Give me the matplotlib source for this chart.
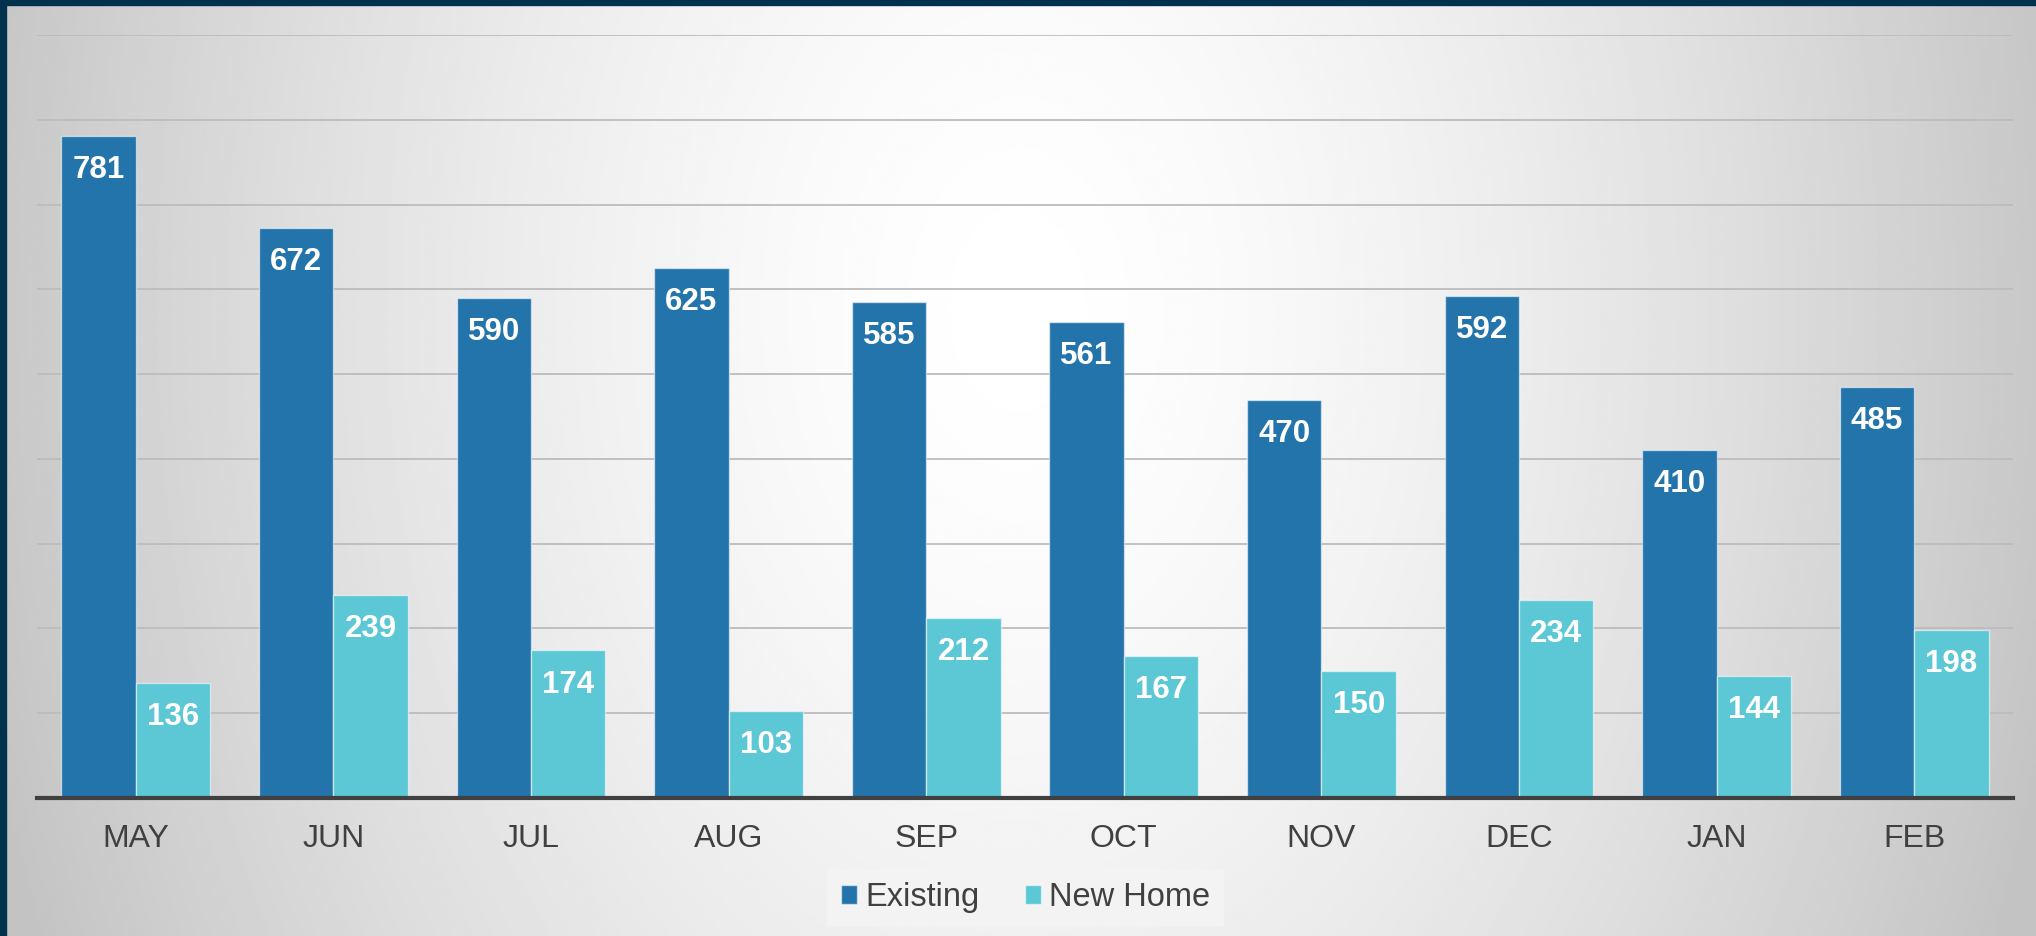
import numpy as np
import matplotlib
matplotlib.use("Agg")
import matplotlib.pyplot as plt
from matplotlib.patches import Rectangle

plt.rcParams['font.family'] = ['Liberation Sans', 'DejaVu Sans']

months = ['MAY', 'JUN', 'JUL', 'AUG', 'SEP', 'OCT', 'NOV', 'DEC', 'JAN', 'FEB']
existing = [781, 672, 590, 625, 585, 561, 470, 592, 410, 485]
new_home = [136, 239, 174, 103, 212, 167, 150, 234, 144, 198]

c_exist = '#2274ab'
c_new = '#5cc7d5'

fig = plt.figure(figsize=(20.36, 9.36), dpi=100)

# radial background
bg = fig.add_axes([0, 0, 1, 1], zorder=-10)
yy, xx = np.mgrid[0:1:400j, 0:1:800j]
r = np.sqrt(((xx - 0.5) / 0.5) ** 2 + ((yy - 0.33) / 1.6) ** 2)
shade = np.clip(255 - 55 * r ** 1.5, 196, 255) / 255
bg.imshow(shade, cmap='gray', vmin=0, vmax=1, aspect='auto',
          extent=[0, 1, 1, 0], interpolation='bilinear')
bg.set_xlim(0, 1)
bg.set_ylim(1, 0)
bg.axis('off')

# frame
fig.patches.append(Rectangle((0, 1 - 5 / 936), 1, 5 / 936, transform=fig.transFigure,
                             color='#00324f', zorder=5))
fig.patches.append(Rectangle((0, 0), 6 / 2036, 1, transform=fig.transFigure,
                             color='#00324f', zorder=5))

ax = fig.add_axes([37 / 2036, 1 - 798 / 936, (2013 - 37) / 2036, (798 - 35) / 936])
ax.set_facecolor('none')

x = np.arange(len(months))
w = 0.377
b1 = ax.bar(x - w / 2, existing, w, color=c_exist, edgecolor=(1, 1, 1, 0.55),
            linewidth=1, label='Existing', zorder=3)
b2 = ax.bar(x + w / 2, new_home, w, color=c_new, edgecolor=(1, 1, 1, 0.55),
            linewidth=1, label='New Home', zorder=3)

for bars in (b1, b2):
    for rect in bars:
        h = rect.get_height()
        ax.annotate(str(int(h)), (rect.get_x() + rect.get_width() / 2, h),
                    xytext=(0, -24.5), textcoords='offset points',
                    ha='center', va='center', color='white',
                    fontsize=22.5, fontweight='bold', zorder=4)

ax.set_xlim(-0.5, 9.5)
ax.set_ylim(0, 900)
ax.set_yticks(range(0, 901, 100))
ax.yaxis.grid(True, color='#bcbcbc', linewidth=1.3, zorder=0)
ax.set_axisbelow(True)
ax.tick_params(axis='y', length=0, labelleft=False)
ax.set_xticks(x)
ax.set_xticklabels(months, fontsize=23, color='#404040')
ax.tick_params(axis='x', length=0, pad=19)
for s in ('top', 'right', 'left'):
    ax.spines[s].set_visible(False)
ax.spines['bottom'].set_color('#404040')
ax.spines['bottom'].set_linewidth(3)
ax.spines['bottom'].set_zorder(5)

leg = fig.legend(handles=[b1, b2], loc='center', bbox_to_anchor=(0.5037, 0.041),
                 ncol=2, fontsize=23.5, frameon=True, fancybox=False,
                 handlelength=0.5, handleheight=0.5, handletextpad=0.25,
                 columnspacing=1.4, borderpad=0.4, borderaxespad=0)
leg.get_frame().set_facecolor('#f4f4f4')
leg.get_frame().set_edgecolor('none')
leg.get_frame().set_alpha(0.9)
for t in leg.get_texts():
    t.set_color('#404040')

fig.savefig('out.png', dpi=100)
